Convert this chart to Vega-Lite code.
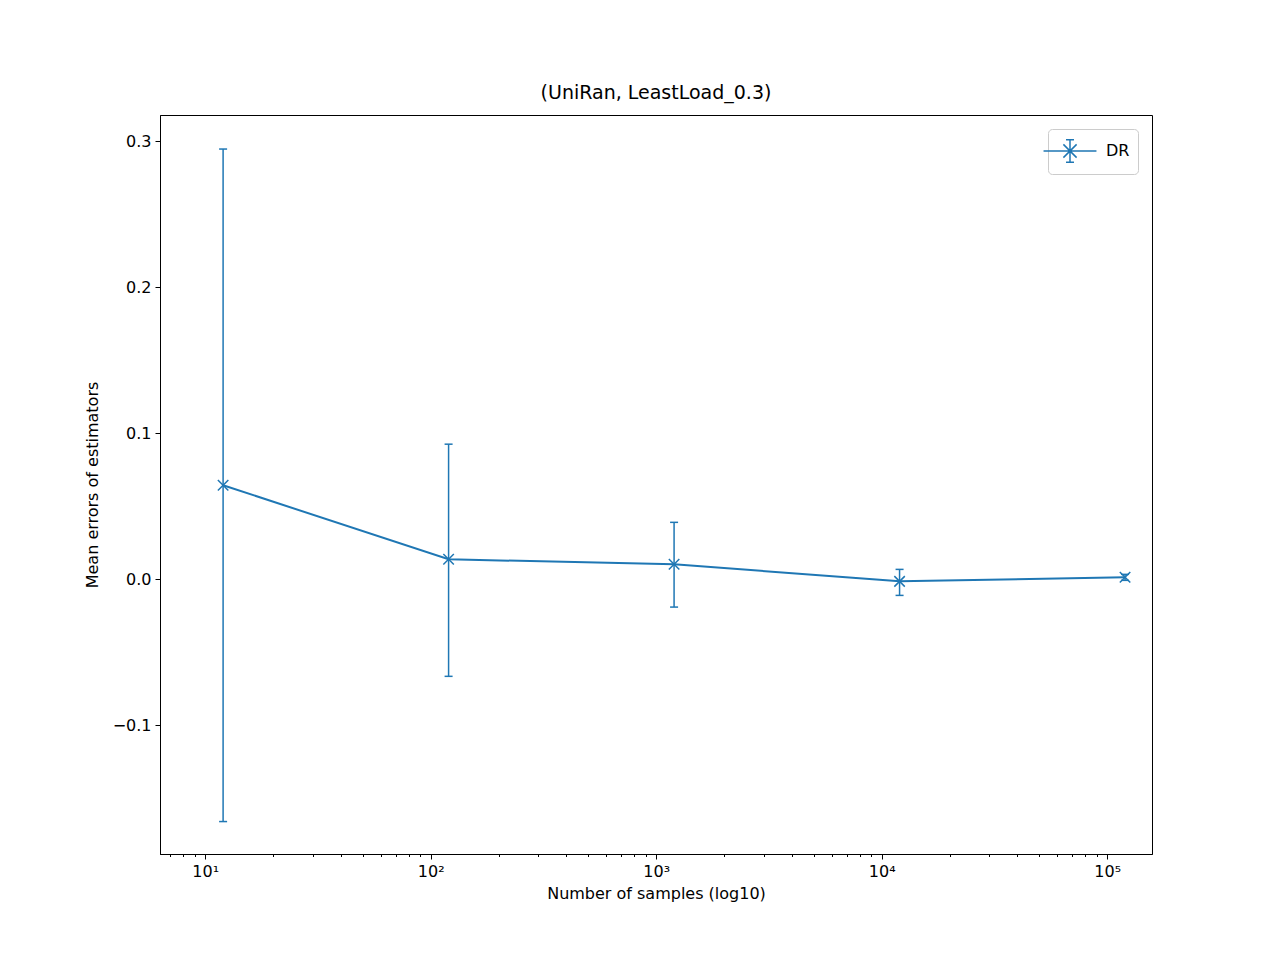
{
  "$schema": "https://vega.github.io/schema/vega-lite/v6.json",
  "width": 992,
  "height": 739,
  "autosize": {"type": "none"},
  "padding": {"left": 160, "top": 115, "right": 128, "bottom": 106},
  "background": "white",
  "title": {"text": "(UniRan, LeastLoad_0.3)", "fontSize": 19, "fontWeight": "normal", "font": "DejaVu Sans", "offset": 12, "color": "black"},
  "config": {
    "font": "DejaVu Sans",
    "view": {"stroke": "black", "strokeWidth": 1},
    "axis": {"labelFontSize": 16, "titleFontSize": 16, "titleFontWeight": "normal", "labelColor": "black", "titleColor": "black", "tickColor": "black", "domainColor": "black", "grid": false},
    "legend": {"orient": "top-right", "strokeColor": "#cccccc", "fillColor": "white", "cornerRadius": 4, "padding": 8, "offset": 14, "labelFontSize": 16, "labelColor": "black", "title": null}
  },
  "data": {"values": [
    {"n": 12, "mean": 0.0644, "lo": -0.1658, "hi": 0.2945, "series": "DR"},
    {"n": 120, "mean": 0.0137, "lo": -0.0664, "hi": 0.0925, "series": "DR"},
    {"n": 1200, "mean": 0.0103, "lo": -0.019, "hi": 0.039, "series": "DR"},
    {"n": 12000, "mean": -0.0014, "lo": -0.011, "hi": 0.0068, "series": "DR"},
    {"n": 120000, "mean": 0.0014, "lo": -0.0007, "hi": 0.0034, "series": "DR"}
  ]},
  "resolve": {"axis": {"x": "independent"}, "scale": {"x": "shared", "y": "shared"}},
  "layer": [
    {
      "mark": {"type": "rule", "color": "#1f77b4", "strokeWidth": 1.5},
      "encoding": {
        "x": {"field": "n", "type": "quantitative", "scale": {"type": "log", "domain": [6.3, 158000], "nice": false},
          "axis": {"orient": "bottom", "values": [7,8,9,20,30,40,50,60,70,80,90,200,300,400,500,600,700,800,900,2000,3000,4000,5000,6000,7000,8000,9000,20000,30000,40000,50000,60000,70000,80000,90000], "labels": false, "tickSize": 2.5, "domain": false, "title": null}},
        "y": {"field": "lo", "type": "quantitative", "scale": {"domain": [-0.188, 0.3178], "nice": false, "zero": false},
          "axis": {"values": [-0.1, 0, 0.1, 0.2, 0.3], "labelExpr": "replace(format(datum.value, '.1f'), '-', '−')", "title": "Mean errors of estimators", "tickSize": 5, "labelPadding": 4, "titlePadding": 12}},
        "y2": {"field": "hi"}
      }
    },
    {
      "mark": {"type": "point", "shape": "M-1,0L1,0", "filled": false, "color": "#1f77b4", "size": 64, "strokeWidth": 1.5, "opacity": 1},
      "encoding": {
        "x": {"field": "n", "type": "quantitative", "axis": {"orient": "bottom", "values": [10, 100, 1000, 10000, 100000], "labelExpr": "'10' + ['⁰','¹','²','³','⁴','⁵'][round(log(datum.value)/LN10)]", "title": "Number of samples (log10)", "tickSize": 5, "labelPadding": 4, "titlePadding": 6}},
        "y": {"field": "lo", "type": "quantitative"}
      }
    },
    {
      "mark": {"type": "point", "shape": "M-1,0L1,0", "filled": false, "color": "#1f77b4", "size": 64, "strokeWidth": 1.5, "opacity": 1},
      "encoding": {
        "x": {"field": "n", "type": "quantitative", "axis": null},
        "y": {"field": "hi", "type": "quantitative"}
      }
    },
    {
      "mark": {"type": "line", "strokeWidth": 2},
      "encoding": {
        "x": {"field": "n", "type": "quantitative", "axis": null},
        "y": {"field": "mean", "type": "quantitative"},
        "color": {"field": "series", "type": "nominal", "scale": {"range": ["#1f77b4"]},
          "legend": {"symbolType": "M-2,0L2,0M-0.5,-0.5L0.5,0.5M0.5,-0.5L-0.5,0.5M0,-0.85L0,0.85M-0.3,-0.85L0.3,-0.85M-0.3,0.85L0.3,0.85", "symbolSize": 700, "symbolStrokeWidth": 1.5, "symbolFillColor": "transparent", "labelOffset": 22}}
      }
    },
    {
      "mark": {"type": "point", "shape": "M-1,-1L1,1M1,-1L-1,1", "filled": false, "color": "#1f77b4", "size": 110, "strokeWidth": 1.5, "opacity": 1},
      "encoding": {
        "x": {"field": "n", "type": "quantitative", "axis": null},
        "y": {"field": "mean", "type": "quantitative"}
      }
    }
  ]
}
